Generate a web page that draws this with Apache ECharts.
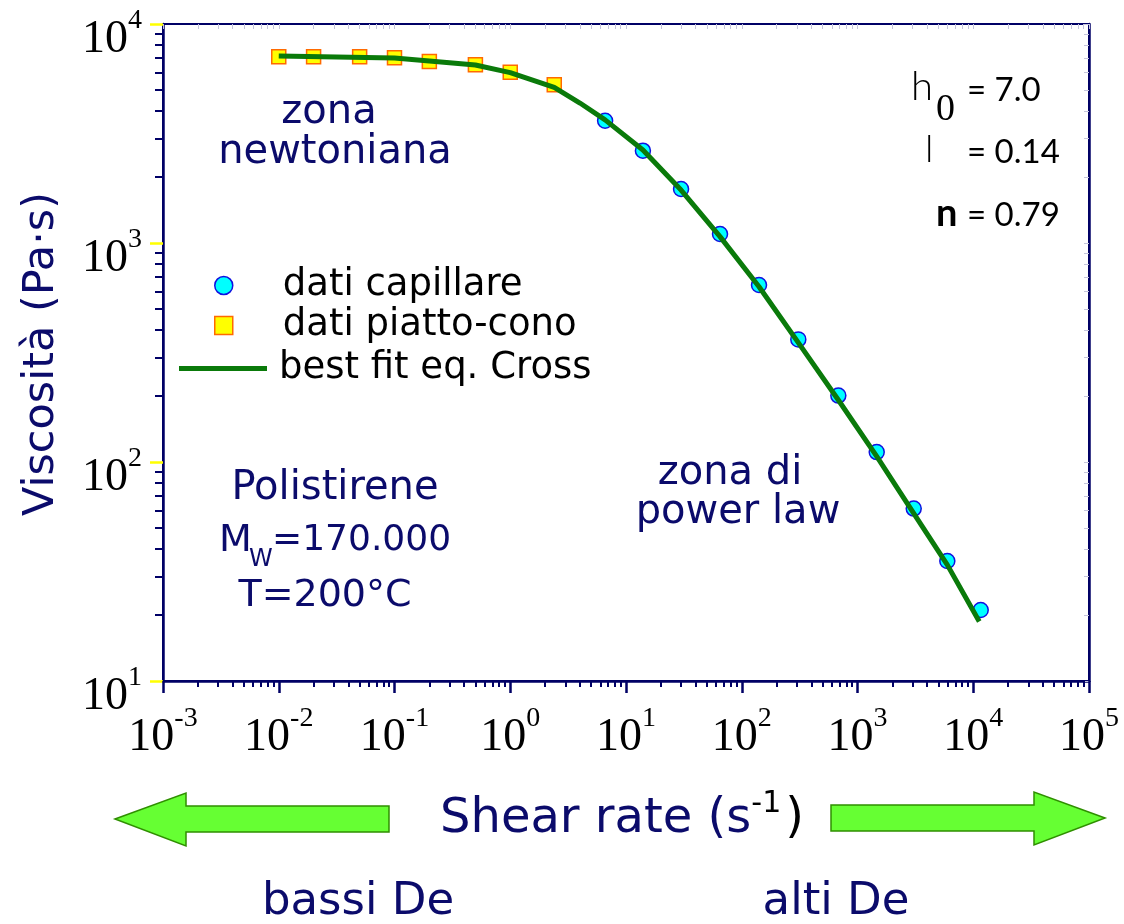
<!DOCTYPE html>
<html>
<head>
<meta charset="utf-8">
<script src="https://cdn.jsdelivr.net/npm/echarts@6/dist/echarts.min.js"></script>
<style>
html,body{margin:0;padding:0;background:#fff;}
#chart{width:1124px;height:924px;}
</style>
</head>
<body>
<div id="chart"></div>
<script>
// ---- data ----
const capRate = [6.6, 14.0, 29.9, 64.9, 141, 308, 683, 1466, 3060, 5970, 11600];
const capVisc = [3616, 2640, 1765, 1099, 643, 363, 201, 111, 61.3, 35.3, 21.1];
const coneRate = [0.01, 0.02, 0.05, 0.1, 0.2, 0.5, 1, 2.4];
const coneVisc = [7093, 7093, 7093, 7017, 6733, 6520, 6016, 5283];
const fitRate = [0.01, 0.1, 0.2, 0.5, 1, 2.4, 4.0, 6.6, 14.0, 29.9, 64.9, 141, 308, 683, 1466, 3060, 5970, 11270];
const fitVisc = [7140, 6998, 6780, 6500, 5994, 5142, 4357, 3650, 2660, 1745, 1069, 631, 351, 192, 106, 58.3, 33.9, 18.7];
const xMajor = [1e-3, 1e-2, 1e-1, 1, 10, 100, 1000, 10000, 100000];
const yMajor = [10, 100, 1000, 10000];
const seriesNames = ['dati capillare', 'dati piatto-cono', 'best fit eq. Cross'];

function minorTicks(majors) {
  const out = [];
  for (let i = 0; i < majors.length - 1; i++) {
    for (let k = 2; k <= 9; k++) out.push(majors[i] * k);
  }
  return out;
}
const xMinor = minorTicks(xMajor);
const yMinor = minorTicks(yMajor);

const NAVY = '#000066';
const TXT = '#0b0b6b';
const SANS = 'DejaVu Sans';
const SERIF = 'Liberation Serif';

const powFmt = v => '{b|10}{e|' + Math.round(Math.log10(v)) + '}';
const powRich = {
  b: { fontFamily: SERIF, fontSize: 46, lineHeight: 66, color: '#000' },
  e: { fontFamily: SERIF, fontSize: 28, lineHeight: 28, verticalAlign: 'top', color: '#000' }
};

const zip = (a, b) => a.map((v, i) => [v, b[i]]);

function txt(text, x, y, size, opts) {
  opts = opts || {};
  return {
    type: 'text', x: x, y: y, rotation: opts.rotation || 0, z: 10,
    style: {
      text: text, fontSize: size, fontFamily: opts.family || SANS,
      fontWeight: opts.weight || 'normal',
      fill: opts.color || TXT,
      align: opts.align || 'center', textAlign: opts.align || 'center',
      verticalAlign: 'middle', textVerticalAlign: 'middle'
    }
  };
}

const legendText = pad => ({ fontFamily: SANS, fontSize: 37, color: '#000', padding: [0, 0, 0, pad] });

const chart = echarts.init(document.getElementById('chart'));
const option = {
  animation: false,
  backgroundColor: '#fff',
  grid: { left: 163, top: 24, right: 35, bottom: 243, containLabel: false, outerBoundsMode: 'none',
          show: true, borderColor: NAVY, borderWidth: 2, backgroundColor: 'transparent' },
  legend: [
    { data: [{ name: seriesNames[0], icon: 'circle' }], left: 214, top: 267, padding: 0, itemWidth: 18, itemHeight: 18,
      selectedMode: false, itemStyle: { borderWidth: 1.5 }, textStyle: legendText(45) },
    { data: [{ name: seriesNames[1], icon: 'rect' }], left: 214, top: 307, padding: 0,
      itemWidth: 18, itemHeight: 18, selectedMode: false, itemStyle: { borderWidth: 1.5 },
      textStyle: legendText(45) },
    { data: [{ name: seriesNames[2], icon: 'path://M0,0H88V5H0Z' }], left: 179, top: 350, padding: 0,
      itemWidth: 88, itemHeight: 5, selectedMode: false,
      itemStyle: { color: '#0a7a0a', borderWidth: 0 }, textStyle: legendText(7) }
  ],
  xAxis: [
    { type: 'log', logBase: 10, min: 1e-3, max: 1e5, position: 'bottom',
      axisLine: { show: true, onZero: false, lineStyle: { color: NAVY, width: 2.5 } },
      axisTick: { show: true, customValues: xMajor, length: 12, lineStyle: { color: NAVY, width: 2.5 } },
      axisLabel: { show: true, customValues: xMajor, margin: 24, formatter: powFmt, rich: powRich,
                   showMinLabel: true, showMaxLabel: true, hideOverlap: false },
      splitLine: { show: false }, minorTick: { show: false } },
    { type: 'log', logBase: 10, min: 1e-3, max: 1e5, position: 'bottom',
      axisLine: { show: false, onZero: false },
      axisTick: { show: true, customValues: xMinor, length: 6, lineStyle: { color: NAVY, width: 2 } },
      axisLabel: { show: false }, splitLine: { show: false } },
    { type: 'log', logBase: 10, min: 1e-3, max: 1e5, position: 'top',
      axisLine: { show: true, onZero: false, lineStyle: { color: NAVY, width: 2 } },
      axisTick: { show: true, inside: true, customValues: xMinor.concat(xMajor), length: 5,
                  lineStyle: { color: '#c4c4dc', width: 1 } },
      axisLabel: { show: false }, splitLine: { show: false } }
  ],
  yAxis: [
    { type: 'log', logBase: 10, min: 10, max: 10000, position: 'left',
      axisLine: { show: true, onZero: false, lineStyle: { color: NAVY, width: 2.5 } },
      axisTick: { show: true, customValues: yMajor, length: 13, lineStyle: { color: '#ffff00', width: 2.5 } },
      axisLabel: { show: true, customValues: yMajor, margin: 21, formatter: powFmt, rich: powRich,
                   padding: [32, 0, 0, 0], showMinLabel: true, showMaxLabel: true, hideOverlap: false },
      splitLine: { show: false } },
    { type: 'log', logBase: 10, min: 10, max: 10000, position: 'left',
      axisLine: { show: false, onZero: false },
      axisTick: { show: true, customValues: yMinor, length: 8, lineStyle: { color: NAVY, width: 2 } },
      axisLabel: { show: false }, splitLine: { show: false } },
    { type: 'log', logBase: 10, min: 10, max: 10000, position: 'right',
      axisLine: { show: true, onZero: false, lineStyle: { color: NAVY, width: 2.5 } },
      axisTick: { show: true, inside: true, customValues: yMinor.concat(yMajor), length: 5,
                  lineStyle: { color: '#c4c4dc', width: 1 } },
      axisLabel: { show: false }, splitLine: { show: false } }
  ],
  series: [
    { name: seriesNames[0], type: 'scatter', data: zip(capRate, capVisc), symbol: 'circle', symbolSize: 15,
      itemStyle: { color: '#00ffff', borderColor: '#1010e0', borderWidth: 1.5, opacity: 1 }, z: 2 },
    { name: seriesNames[1], type: 'scatter', data: zip(coneRate, coneVisc), symbol: 'rect', symbolSize: 14,
      itemStyle: { color: '#ffff00', borderColor: '#ff6a00', borderWidth: 1.5, opacity: 1 }, z: 2 },
    { name: seriesNames[2], type: 'line', data: zip(fitRate, fitVisc), symbol: 'none', smooth: false,
      lineStyle: { color: '#0a7a0a', width: 5, join: 'round', cap: 'butt' }, itemStyle: { color: '#0a7a0a' }, z: 5 }
  ],
  graphic: [
    // y-axis title
    txt('Viscosità (Pa·s)', 42, 354, 43, { rotation: Math.PI / 2 }),
    // x-axis title
    {
      type: 'text', x: 622, y: 820, z: 10,
      style: {
        text: '{a|Shear rate (s}{e|-1}{c|)}',
        align: 'center', textAlign: 'center', verticalAlign: 'middle', textVerticalAlign: 'middle',
        rich: {
          a: { fontFamily: SANS, fontSize: 48, lineHeight: 62, fill: TXT, color: TXT },
          e: { fontFamily: SANS, fontSize: 30, lineHeight: 40, verticalAlign: 'top', fill: '#000', color: '#000', padding: [0, 4, 0, 0] },
          c: { fontFamily: SANS, fontSize: 48, lineHeight: 62, fill: '#000', color: '#000' }
        }
      }
    },
    // arrows
    { type: 'polygon', z: 5, shape: { points: [[115, 819], [186, 793], [186, 806], [389, 806], [389, 832], [186, 832], [186, 846]] },
      style: { fill: '#66ff33', stroke: '#2f8f00', lineWidth: 1.5 } },
    { type: 'polygon', z: 5, shape: { points: [[1105, 818], [1034, 792], [1034, 805], [831, 805], [831, 831], [1034, 831], [1034, 845]] },
      style: { fill: '#66ff33', stroke: '#2f8f00', lineWidth: 1.5 } },
    txt('bassi De', 358, 902, 45),
    txt('alti De', 836, 902, 45),
    txt('zona', 329, 113, 40),
    txt('newtoniana', 335, 153, 40),
    txt('zona di', 730, 474, 40),
    txt('power law', 738, 513, 40),
    txt('Polistirene', 335, 489, 40),
    txt('M', 219, 541, 38, { align: 'left' }),
    txt('W', 249, 560, 24, { align: 'left' }),
    txt('=170.000', 272, 541, 36, { align: 'left' }),
    txt('T=200°C', 325, 596, 38),
    // fit parameters
    txt('h', 911, 87, 40, { align: 'left', family: 'Lato', color: '#000', weight: 300 }),
    txt('0', 936, 110, 38, { align: 'left', family: SERIF, color: '#000' }),
    txt('= 7.0', 967, 90, 33, { align: 'left', family: 'Lato', color: '#000' }),
    txt('l', 925, 150, 38, { align: 'left', family: 'Lato', color: '#000', weight: 300 }),
    txt('= 0.14', 967, 152, 33, { align: 'left', family: 'Lato', color: '#000' }),
    txt('n', 936, 214, 38, { align: 'left', family: 'Lato', color: '#000', weight: 'bold' }),
    txt('= 0.79', 967, 215, 33, { align: 'left', family: 'Lato', color: '#000' })
  ]
};
chart.setOption(option);
</script>
</body>
</html>
